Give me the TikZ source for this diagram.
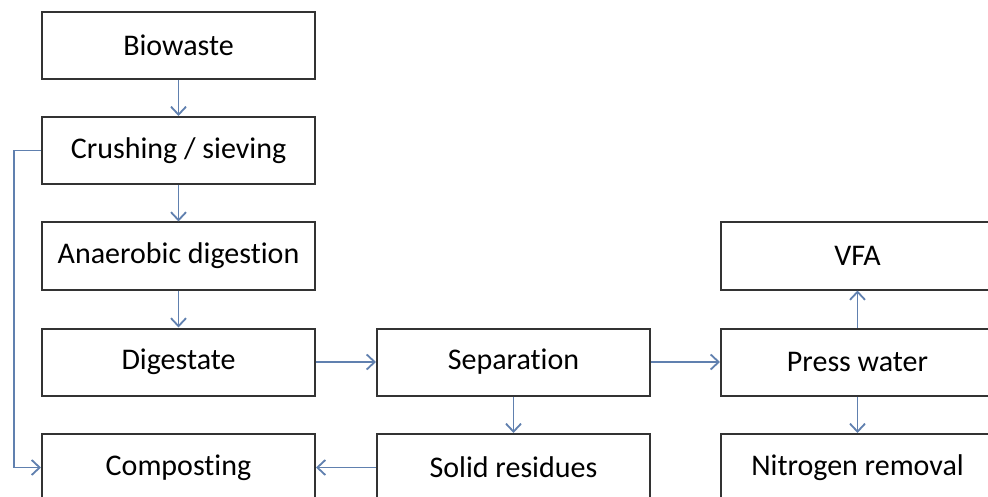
\documentclass[tikz,border=0pt]{standalone}
\usepackage{fontspec}
\setmainfont{Carlito}[Ligatures=NoCommon]
\usetikzlibrary{arrows.meta}
\definecolor{arrowblue}{RGB}{96,128,175}
\begin{document}
\begin{tikzpicture}[x=1pt,y=-1pt,
  stagebox/.style={draw=black!80,line width=2pt,rectangle,minimum width=273pt,minimum height=67pt,inner sep=0pt,
    font=\fontsize{30}{36}\selectfont},
  flow/.style={draw=arrowblue,line width=1.8pt,-{Straight Barb[length=8pt,width=15pt,line width=1.8pt]}}]
\useasboundingbox (0,0) rectangle (988,497);
\clip (0,0) rectangle (988,497);
\fill[white] (0,0) rectangle (988,497);
\node[stagebox] (bio) at (178.5,45.5) {Biowaste};
\node[stagebox] (crush) at (178.5,150.5) {Crushing / sieving};
\node[stagebox] (ad) at (178.5,256) {Anaerobic digestion};
\node[stagebox] (dig) at (178.5,362) {Digestate};
\node[stagebox] (comp) at (178.5,467.5) {Composting};
\node[stagebox] (sep) at (513.5,362) {Separation};
\node[stagebox] (solid) at (513.5,467.5) {Solid residues};
\node[stagebox] (vfa) at (857.5,256) {VFA};
\node[stagebox] (press) at (857.5,362) {Press water};
\node[stagebox] (nitro) at (857.5,467.5) {Nitrogen removal};
\coordinate (bend) at (14,150.5);
\draw[flow] (bio) -- (crush);
\draw[flow] (crush) -- (ad);
\draw[flow] (ad) -- (dig);
\draw[flow] (dig) -- (sep);
\draw[flow] (sep) -- (press);
\draw[flow] (sep) -- (solid);
\draw[flow] (solid) -- (comp);
\draw[flow] (press) -- (vfa);
\draw[flow] (press) -- (nitro);
\draw[flow] (crush.west) -- (bend) |- (comp.west);
\end{tikzpicture}
\end{document}
